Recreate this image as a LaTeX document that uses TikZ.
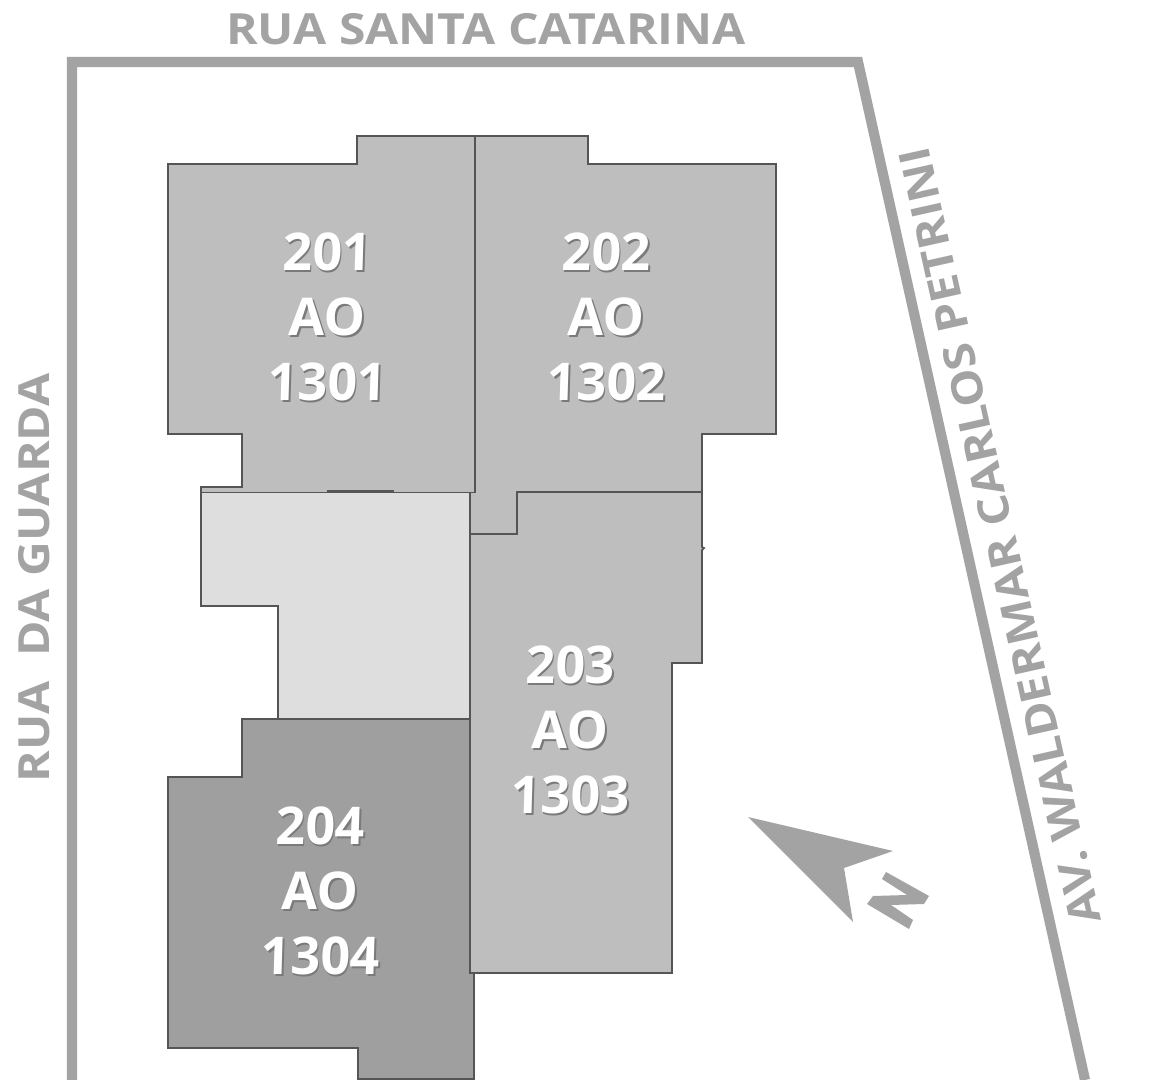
\documentclass[tikz,border=0pt]{standalone}
\usepackage{fontspec}
\setmainfont{Open Sans}[BoldFeatures={FakeStretch=1.12}]
\newfontfamily\aptfont{Open Sans}[BoldFeatures={FakeSlant=0.03}]
\definecolor{wallgray}{HTML}{A3A3A3}
\definecolor{linegray}{HTML}{555555}
\definecolor{aptgray}{HTML}{BEBEBE}
\definecolor{lightgray}{HTML}{DEDEDE}
\definecolor{darkgray}{HTML}{9F9F9F}
\definecolor{shadowgray}{HTML}{7A7A7A}
\tikzset{
  apt/.style={draw=linegray, line width=.5pt, fill=aptgray},
  aptlabel/.style={align=center, text=white, font=\aptfont\bfseries\fontsize{14.8}{18.5}\selectfont, inner sep=0pt},
  aptshadow/.style={aptlabel, text=shadowgray},
  street/.style={text=wallgray, font=\bfseries\fontsize{12.2}{14}\selectfont, inner sep=0pt},
}
\begin{document}
\begin{tikzpicture}[x=.01cm, y=-.01cm]
\useasboundingbox (0,0) rectangle (1161,1080);
\fill[white] (0,0) rectangle (1161,1080);
% terrain
\draw[wallgray, line width=2.9pt, miter limit=10] (72,1080) -- (72,62) -- (858,62) -- (1085,1080);
\node[street] (catarina) at (486,29) {RUA SANTA CATARINA};
\node[street, rotate=90] (guarda) at (34,578) {RUA\ \ DA GUARDA};
\node[street, rotate=102.6] (petrini) at (1000,536) {AV. WALDERMAR CARLOS PETRINI};
% apartments
\draw[apt, fill=lightgray] (201,492) -- (470,492) -- (470,719) -- (278,719) -- (278,606) -- (201,606) -- cycle;
\draw[apt] (168,164) -- (357,164) -- (357,136) -- (475,136) -- (475,492.5) -- (393,492.5) -- (393,491) -- (328,491) -- (328,492.5) -- (201,492.5) -- (201,487) -- (242,487) -- (242,434) -- (168,434) -- cycle;
\draw[apt] (475,136) -- (588,136) -- (588,164) -- (776,164) -- (776,434) -- (702,434) -- (702,492) -- (517,492) -- (517,534) -- (470,534) -- (470,492.5) -- (475,492.5) -- cycle;
\draw[apt] (517,492) -- (702,492) -- (702,547) -- (704,548) -- (702,550) -- (702,663) -- (672,663) -- (672,973) -- (470,973) -- (470,534) -- (517,534) -- cycle;
\draw[apt, fill=darkgray] (168,777) -- (242,777) -- (242,719) -- (470,719) -- (470,973) -- (474,973) -- (474,1079) -- (358,1079) -- (358,1048) -- (168,1048) -- cycle;
\foreach \name/\i/\j/\n/\m in {a/327/317/201/1301, b/606/317/202/1302, c/570/730/203/1303, d/320/891/204/1304}{
\node[aptshadow] (\name s) at (\i+1.5,\j+2) {\n\\AO\\\m};
\node[aptlabel] (\name) at (\i,\j) {\n\\AO\\\m};
}
% north
\fill[wallgray] (748,817) -- (893,851) -- (844,868) -- (853,922) -- cycle;
\fill[wallgray] (886,872) -- (929,896) -- (924,904) -- (891,905) -- (913,920) -- (909,929) -- (867,904) -- (873,896) -- (907,895) -- (882,879) -- cycle;
\end{tikzpicture}
\end{document}
